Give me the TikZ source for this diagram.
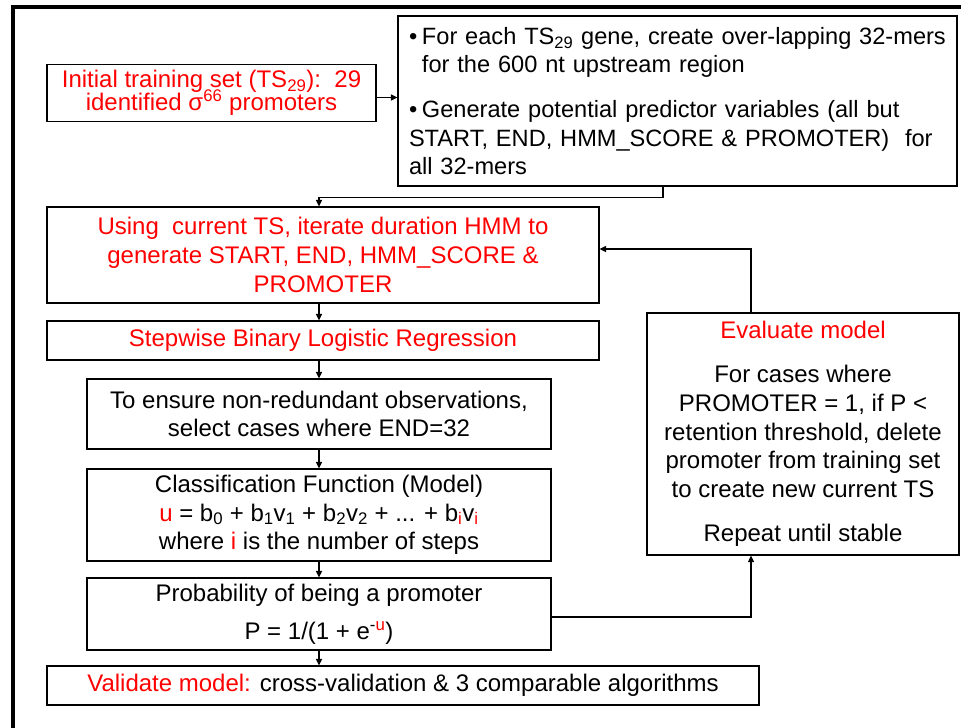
\documentclass[tikz,border=0pt]{standalone}
\usepackage{fontspec}
\setmainfont{Liberation Sans}
\usetikzlibrary{arrows.meta}
% let lines with raised or lowered figures keep their set spacing
\newcommand\tightlines{\lineskiplimit-50pt\relax}

\begin{document}
\begin{tikzpicture}[x=1pt,y=-1pt,
  box/.style={draw=black, line width=1.2pt, inner sep=0pt, align=center,
    font=\fontsize{24}{28.7}\selectfont},
  hot/.style={text=red},
  arr/.style={line width=1.2pt, -{Triangle[length=6.5pt,width=6pt]}},
  link/.style={line width=1.2pt}]
\useasboundingbox (0,0) rectangle (961,728);

% heavy frame along the top and left edges
\fill[black] (11,5) rectangle (961,9);
\fill[black] (11,5) rectangle (15,728);

% process boxes
\node[box, hot, minimum width=329pt, minimum height=57pt,
  font=\fontsize{24}{23.5}\selectfont\tightlines] (init) at (211.5,93)
  {Initial training set (TS\textsubscript{29}):\ \ 29\\
   identified σ\textsuperscript{66} promoters};

\node[box, minimum width=559pt, minimum height=170pt, align=left,
  text width=537pt, inner xsep=11pt,
  font=\fontsize{23.6}{28.4}\selectfont] (bul) at (677.5,101)
  {\mbox{\textbullet\hspace{0.2em}For each TS\textsubscript{29} gene, create over-lapping 32-mers}\\
   \mbox{\hphantom{\textbullet\hspace{0.2em}}for the 600 nt upstream region}\\[16.6pt]
   \mbox{\textbullet\hspace{0.2em}Generate potential predictor variables (all but}\\
   \mbox{START, END, HMM\_SCORE \& PROMOTER)\ \ for}\\
   \mbox{all 32-mers}};

\node[box, hot, minimum width=552pt, minimum height=96pt] (hmm) at (323,255)
  {Using\ \ current TS, iterate duration HMM to\\
   generate START, END, HMM\_SCORE \&\\
   PROMOTER};

\node[box, hot, minimum width=552pt, minimum height=39pt] (step) at (323,340.5)
  {Stepwise Binary Logistic Regression};

\node[box, minimum width=464pt, minimum height=70pt] (uniq) at (319,414)
  {To ensure non-redundant observations,\\
   select cases where END=32};

\node[box, minimum width=464pt, minimum height=92pt,
  font=\fontsize{24}{28.5}\selectfont\tightlines] (cls) at (319,515)
  {Classification Function (Model)\\
   {\color{red}u} = b\textsubscript{0} + b\textsubscript{1}v\textsubscript{1}
   + b\textsubscript{2}v\textsubscript{2} + ... +
   b\textsubscript{\color{red}i}v\textsubscript{\color{red}i}\\
   where {\color{red}i} is the number of steps};

\node[box, minimum width=464pt, minimum height=72pt,
  font=\fontsize{24}{38}\selectfont] (prob) at (319,614)
  {Probability of being a promoter\\
   P = 1/(1 + e\textsuperscript{-{\color{red}u}})};

\node[box, minimum width=712pt, minimum height=39pt] (valid) at (403,685.5)
  {{\color{red}Validate model:} cross-validation \& 3 comparable algorithms};

\node[box, minimum width=312pt, minimum height=242pt] (eval) at (803,434)
  {{\color{red}Evaluate model}\\[15.3pt]
   For cases where\\
   PROMOTER = 1, if P <\\
   retention threshold, delete\\
   promoter from training set\\
   to create new current TS\\[15.3pt]
   Repeat until stable};

% routing guides
\coordinate (spine) at (319,0);
\coordinate (loop) at (751,249);
\coordinate (j1) at ([yshift=-4.5pt]init.east);
\coordinate (j2) at ([xshift=-14.5pt]bul.south);
\coordinate (j3) at ([yshift=-3pt]prob.east);

% connectors
\draw[arr] (j1) -- (j1 -| bul.west);
\draw[arr] (j2) -- ++(0,11) -| (hmm.north -| spine);
\draw[arr] (hmm.south -| spine) -- (step.north -| spine);
\draw[arr] (step.south -| spine) -- (uniq.north -| spine);
\draw[arr] (uniq.south -| spine) -- (cls.north -| spine);
\draw[arr] (cls.south -| spine) -- (prob.north -| spine);
\draw[arr] (prob.south -| spine) -- (valid.north -| spine);
\draw[arr] (j3) -- (j3 -| loop) -- (loop |- eval.south);
\draw[arr] (loop |- eval.north) -- (loop) -- (loop -| hmm.east);
\end{tikzpicture}
\end{document}
